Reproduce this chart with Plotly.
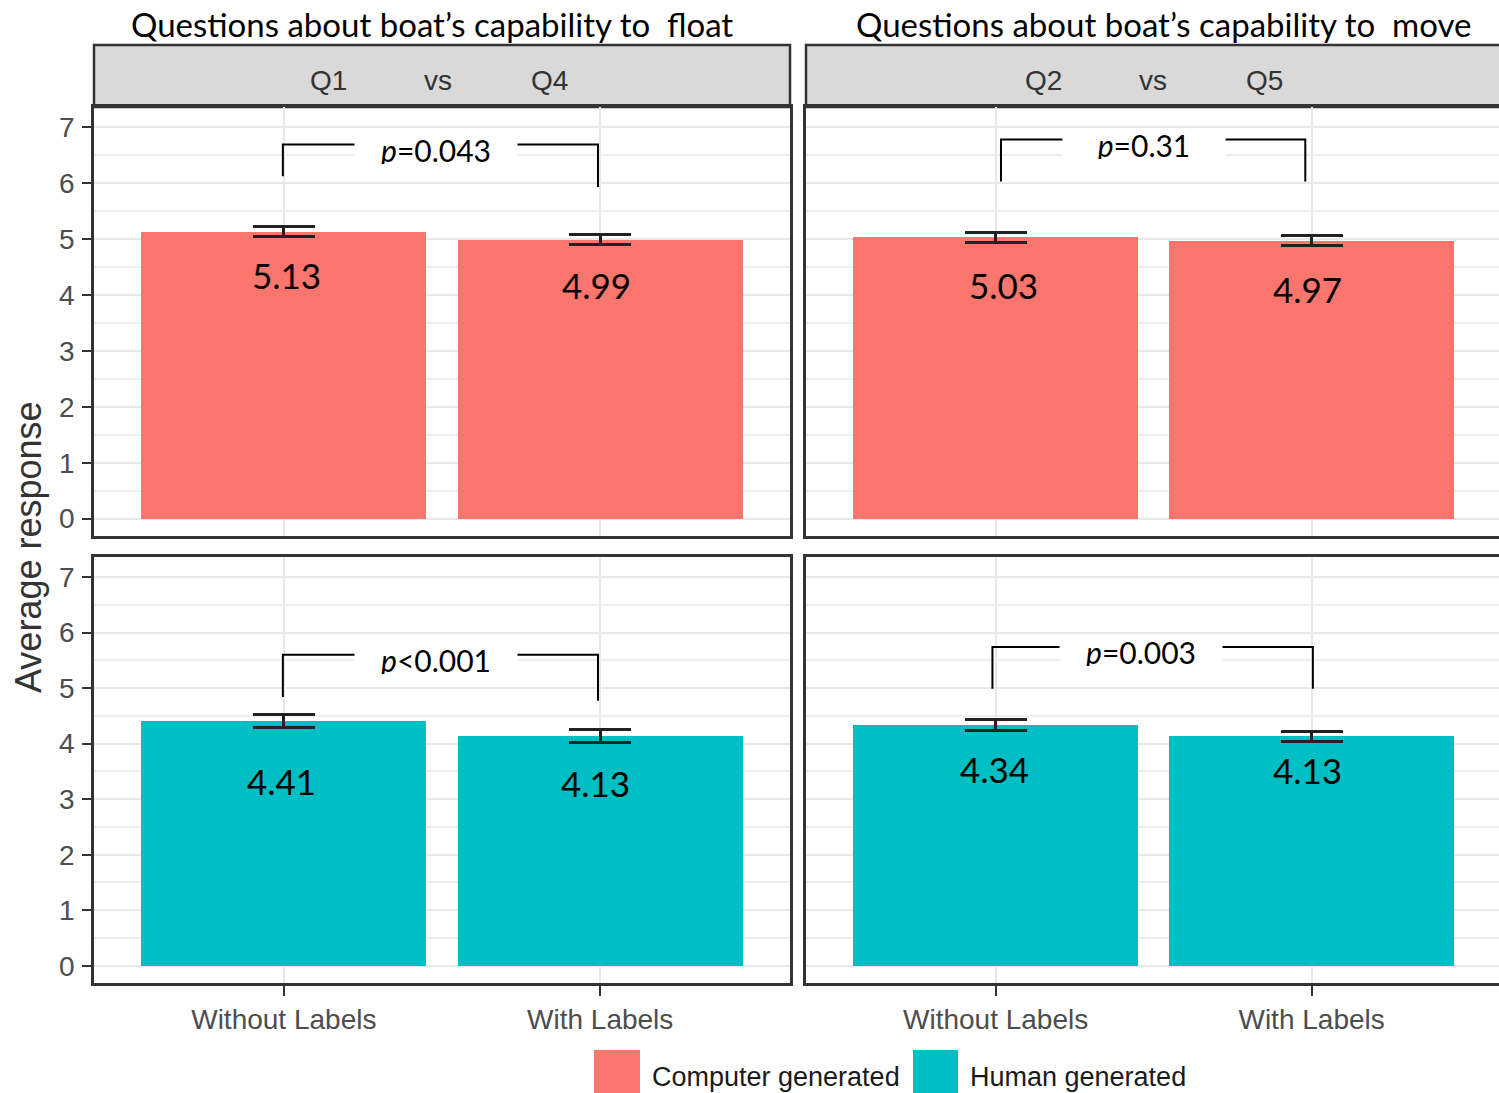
import plotly.graph_objects as go

# ---- data -------------------------------------------------------------
conditions = ["Without Labels", "With Labels"]
groups = ["Computer generated", "Human generated"]
group_colors = ["#F8766D", "#00BFC4"]

panel_titles = ["Questions about boat\u2019s capability to  float",
                "Questions about boat\u2019s capability to  move"]
strip_questions = [("Q1", "Q4"), ("Q2", "Q5")]

# mean responses
computer_float = [5.13, 4.99]
computer_move = [5.03, 4.97]
human_float = [4.41, 4.13]
human_move = [4.34, 4.13]

# standard errors
computer_float_se = [0.093, 0.093]
computer_move_se = [0.09, 0.09]
human_float_se = [0.12, 0.116]
human_move_se = [0.098, 0.095]

p_labels = ["<i>p</i>=0.043", "<i>p</i>=0.31", "<i>p</i>&lt;0.001", "<i>p</i>=0.003"]

y_ticks = [0, 1, 2, 3, 4, 5, 6, 7]

# ---- layout helpers ------------------------------------------------------
W, H = 1499, 1093


def px_x(px):
    return px / W


def px_y(py):
    return 1 - py / H


panels = [
    # (means, se, colour index, x-axis id, y-axis id, column, row)
    (computer_float, computer_float_se, 0, "x", "y", 0, 0),
    (computer_move, computer_move_se, 0, "x2", "y2", 1, 0),
    (human_float, human_float_se, 1, "x3", "y3", 0, 1),
    (human_move, human_move_se, 1, "x4", "y4", 1, 1),
]

col_domains = [[px_x(94), px_x(790)], [px_x(806), 1.0]]
row_domains = [[px_y(536), px_y(107)], [px_y(983), px_y(557)]]
x_ranges = [[0.4, 2.6], [0.4, 2.593]]
y_range = [-0.31, 7.36]

# significance brackets: (left x, right x, bar level, left foot, right foot, label x, label y shift)
brackets = [
    (0.997, 1.993, 6.69, 6.12, 5.93, 1.48, -6),
    (1.017, 1.98, 6.78, 6.03, 6.03, 1.47, -6),
    (0.997, 1.993, 5.60, 4.84, 4.77, 1.48, -5),
    (0.99, 2.004, 5.74, 4.99, 4.99, 1.46, -5),
]

# value label offsets below bar tops (px), horizontal nudges (px)
value_label_dy = [[43, 45], [48, 48], [60, 47], [44, 34]]
value_label_dx = [[3, -4], [8, -4], [-2, -5], [-1, -4]]

fig = go.Figure()

sans = "Liberation Sans, Arial, sans-serif"
axis_font = dict(family=sans, size=28, color="#4D4D4D")
calibri_like = "Lato, Carlito, Calibri, sans-serif"

for i, (means, se, gi, xa, ya, col, row) in enumerate(panels):
    fig.add_trace(go.Bar(
        x=[1, 2], y=means, width=0.9,
        marker=dict(color=group_colors[gi], line=dict(width=0)),
        error_y=dict(type="data", array=se, visible=True,
                     color="#222222", thickness=3, width=31),
        xaxis=xa, yaxis=ya, showlegend=False, hoverinfo="skip",
    ))

    # significance bracket
    bx1, bx2, by, bl1, bl2, lx, lshift = brackets[i]
    fig.add_trace(go.Scatter(
        x=[bx1, bx1, bx2, bx2], y=[bl1, by, by, bl2],
        mode="lines", line=dict(color="black", width=2),
        xaxis=xa, yaxis=ya, showlegend=False, hoverinfo="skip",
    ))
    fig.add_annotation(
        x=lx, y=by, xref=xa, yref=ya, text=p_labels[i], showarrow=False,
        xanchor="center", yshift=lshift, bgcolor="white", width=160, height=28,
        font=dict(family=calibri_like, size=30, color="black"),
    )

    # value labels
    for k, v in enumerate(means):
        fig.add_annotation(
            x=k + 1, y=v, xref=xa, yref=ya, text=f"{v:.2f}", showarrow=False,
            xanchor="center", yanchor="middle",
            yshift=-value_label_dy[i][k], xshift=value_label_dx[i][k],
            font=dict(family=calibri_like, size=35, color="black"),
        )

    bottom = row == 1
    left = col == 0
    xa_name = "xaxis" if xa == "x" else "xaxis" + xa[1:]
    ya_name = "yaxis" if ya == "y" else "yaxis" + ya[1:]
    fig.update_layout(**{
        xa_name: dict(
            domain=col_domains[col], range=x_ranges[col], anchor=ya,
            tickmode="array", tickvals=[1, 2], ticktext=conditions,
            showticklabels=bottom, ticks="outside" if bottom else "",
            ticklen=10, tickwidth=2, tickcolor="#333333", ticklabelstandoff=0,
            tickfont=axis_font,
            showgrid=True, gridcolor="#E8E8E8", gridwidth=2,
            showline=True, mirror=True, linecolor="#333333", linewidth=2.5,
            zeroline=False, fixedrange=True,
        ),
        ya_name: dict(
            domain=row_domains[row], range=y_range, anchor=xa,
            tickmode="array", tickvals=y_ticks, ticktext=[str(t) for t in y_ticks],
            showticklabels=left, ticks="outside" if left else "",
            ticklen=9, tickwidth=2, tickcolor="#333333", ticklabelstandoff=2,
            tickfont=axis_font,
            showgrid=True, gridcolor="#E8E8E8", gridwidth=2,
            minor=dict(dtick=0.5, tick0=0, showgrid=True, gridcolor="#EEEEEE", gridwidth=1.5),
            showline=True, mirror=left, linecolor="#333333", linewidth=2.5,
            zeroline=False, fixedrange=True,
        ),
    })

# facet strips and headers
strip_x = [(94, 790), (806, 1520)]
strip_centers = [438, 1153]
for col in range(2):
    x0, x1 = strip_x[col]
    fig.add_shape(type="rect", xref="paper", yref="paper",
                  x0=px_x(x0), x1=px_x(x1), y0=px_y(107), y1=px_y(45),
                  fillcolor="#D9D9D9", line=dict(color="#333333", width=2.5), layer="below")
    cx = strip_centers[col]
    qa, qb = strip_questions[col]
    for text, dx in ((qa, -110), ("vs", 0), (qb, 111)):
        fig.add_annotation(x=px_x(cx + dx), y=px_y(80), xref="paper", yref="paper",
                           text=text, showarrow=False, xanchor="center", yanchor="middle",
                           font=dict(family=sans, size=28, color="#333333"))

title_cx = [432, 1163]
for col in range(2):
    fig.add_annotation(x=px_x(title_cx[col]), y=px_y(24), xref="paper", yref="paper",
                       text=panel_titles[col], showarrow=False,
                       xanchor="center", yanchor="middle",
                       font=dict(family=calibri_like, size=33, color="black"))

# y-axis title
fig.add_annotation(x=px_x(28), y=px_y(547), xref="paper", yref="paper",
                   text="Average response", showarrow=False, textangle=-90,
                   xanchor="center", yanchor="middle",
                   font=dict(family=sans, size=36, color="#333333"))

# legend keys
legend_keys = [(594, 640, 650), (913, 958, 968)]
for gi, (k0, k1, tx) in enumerate(legend_keys):
    fig.add_shape(type="rect", xref="paper", yref="paper",
                  x0=px_x(k0), x1=px_x(k1), y0=px_y(1100), y1=px_y(1050),
                  fillcolor=group_colors[gi], line=dict(width=0))
    fig.add_annotation(x=px_x(tx), y=px_y(1077), xref="paper", yref="paper",
                       text=groups[gi], showarrow=False, xanchor="left", yanchor="middle",
                       font=dict(family=sans, size=27, color="#1A1A1A"))

fig.update_layout(
    width=W, height=H, autosize=False,
    margin=dict(l=0, r=0, t=0, b=0),
    paper_bgcolor="white", plot_bgcolor="white",
    bargap=0, showlegend=False,
)

fig.write_html("out.html")
